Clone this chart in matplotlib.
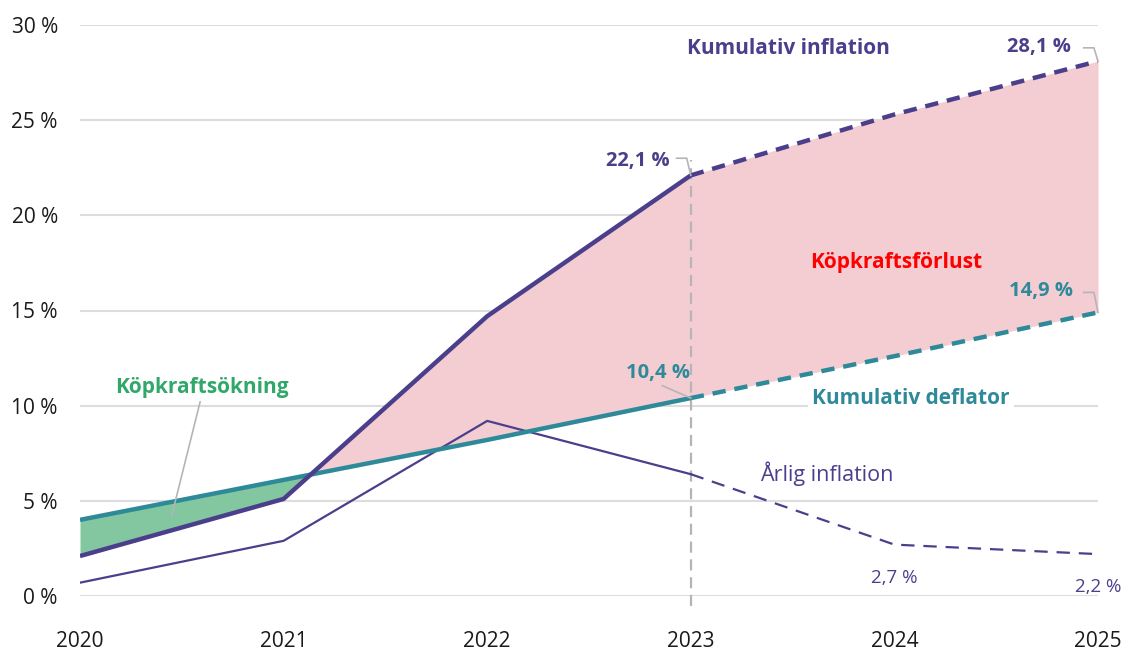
import matplotlib.pyplot as plt
import numpy as np

plt.rcParams['font.family'] = ['Open Sans', 'DejaVu Sans']

years = [2020, 2021, 2022, 2023, 2024, 2025]
kum_inflation = [2.1, 5.1, 14.7, 22.1, 25.3, 28.1]
kum_deflator = [4.0, 6.1, 8.2, 10.4, 12.6, 14.9]
arlig_inflation = [0.7, 2.9, 9.2, 6.4, 2.7, 2.2]
yticks = [0, 5, 10, 15, 20, 25, 30]

purple = '#4b3f8c'
teal = '#2e8a99'
pink = '#f4cdd3'
green_fill = '#82c7a0'
green_txt = '#2fa86a'
grey = '#b5b5b5'

fig = plt.figure(figsize=(11.24, 6.53), dpi=100)
ax = fig.add_axes([80 / 1124, 57 / 653, 1018 / 1124, 571 / 653])

x = np.array(years, dtype=float)
inf = np.array(kum_inflation)
dfl = np.array(kum_deflator)

# fill between the cumulative curves
ax.fill_between(x, inf, dfl, where=inf >= dfl, interpolate=True, color=pink, lw=0, zorder=1)
ax.fill_between(x, inf, dfl, where=inf <= dfl, interpolate=True, color=green_fill, lw=0, zorder=1)

# solid up to 2023, dashed forecast after
s = 4
ax.plot(x[:s], arlig_inflation[:s], color=purple, lw=1.6, zorder=3)
ax.plot(x[s - 1:], arlig_inflation[s - 1:], color=purple, lw=1.6, ls=(0, (6, 4)), zorder=3)
ax.plot(x[:s], dfl[:s], color=teal, lw=3.2, solid_capstyle='butt', zorder=4)
ax.plot(x[s - 1:], dfl[s - 1:], color=teal, lw=3.2, ls=(0, (3, 2)), zorder=4)
ax.plot(x[:s], inf[:s], color=purple, lw=3.2, solid_capstyle='butt', zorder=5)
ax.plot(x[s - 1:], inf[s - 1:], color=purple, lw=3.2, ls=(0, (3, 2)), zorder=5)

# vertical marker at 2023
ax.plot([2023, 2023], [-0.5, 22.9], color=grey, lw=1.6, ls=(0, (5, 3)), clip_on=False, zorder=2)

ax.set_xlim(2020, 2025)
ax.set_ylim(0, 30)
ax.set_yticks(yticks)
ax.set_yticklabels(['%d %%' % v for v in yticks])
ax.set_xticks(years)
ax.set_xticklabels([str(y) for y in years])
ax.tick_params(axis='both', length=0, labelsize=15, colors='#1a1a1a')
ax.tick_params(axis='y', pad=16)
ax.tick_params(axis='x', pad=25)
ax.yaxis.grid(True, color='#dddddd', lw=1.5, zorder=0)
ax.set_axisbelow(True)
for sp in ax.spines.values():
    sp.set_visible(False)

# labels
ax.text(2023.48, 28.75, 'Kumulativ inflation', color=purple, fontsize=15, fontweight='bold',
        ha='center', va='center')
ax.text(2024.01, 17.5, 'Köpkraftsförlust', color='red', fontsize=15, fontweight='bold',
        ha='center', va='center')
ax.text(2024.08, 10.4, 'Kumulativ deflator', color=teal, fontsize=15, fontweight='bold',
        ha='center', va='center', zorder=6,
        bbox=dict(facecolor='white', edgecolor='none', pad=3))
ax.text(2020.6, 10.95, 'Köpkraftsökning', color=green_txt, fontsize=15, fontweight='bold',
        ha='center', va='center')
ax.plot([2020.59, 2020.45], [10.2, 4.2], color=grey, lw=1.2, zorder=6)
ax.text(2023.67, 6.4, 'Årlig inflation', color=purple, fontsize=15.5, ha='center', va='center')
ax.text(2024.0, 0.95, '2,7 %', color=purple, fontsize=13.5, ha='center', va='center')
ax.text(2025.0, 0.45, '2,2 %', color=purple, fontsize=13.5, ha='center', va='center')

# value callouts
ax.text(2022.74, 22.85, '22,1 %', color=purple, fontsize=14.5, fontweight='bold', ha='center', va='center')
ax.plot([2022.93, 2022.98, 2023.0], [23.0, 23.0, 22.1], color=grey, lw=1.2, zorder=6)
ax.text(2024.71, 28.85, '28,1 %', color=purple, fontsize=14.5, fontweight='bold', ha='center', va='center')
ax.plot([2024.93, 2024.98, 2025.0], [28.8, 28.8, 28.1], color=grey, lw=1.2, clip_on=False, zorder=6)
ax.text(2022.84, 11.7, '10,4 %', color=teal, fontsize=14.5, fontweight='bold', ha='center', va='center')
ax.plot([2022.86, 2023.0], [11.05, 10.4], color=grey, lw=1.2, zorder=6)
ax.text(2024.72, 16.0, '14,9 %', color=teal, fontsize=14.5, fontweight='bold', ha='center', va='center')
ax.plot([2024.93, 2024.98, 2025.0], [15.95, 15.95, 14.9], color=grey, lw=1.2, clip_on=False, zorder=6)

fig.savefig('out.png', dpi=100)
